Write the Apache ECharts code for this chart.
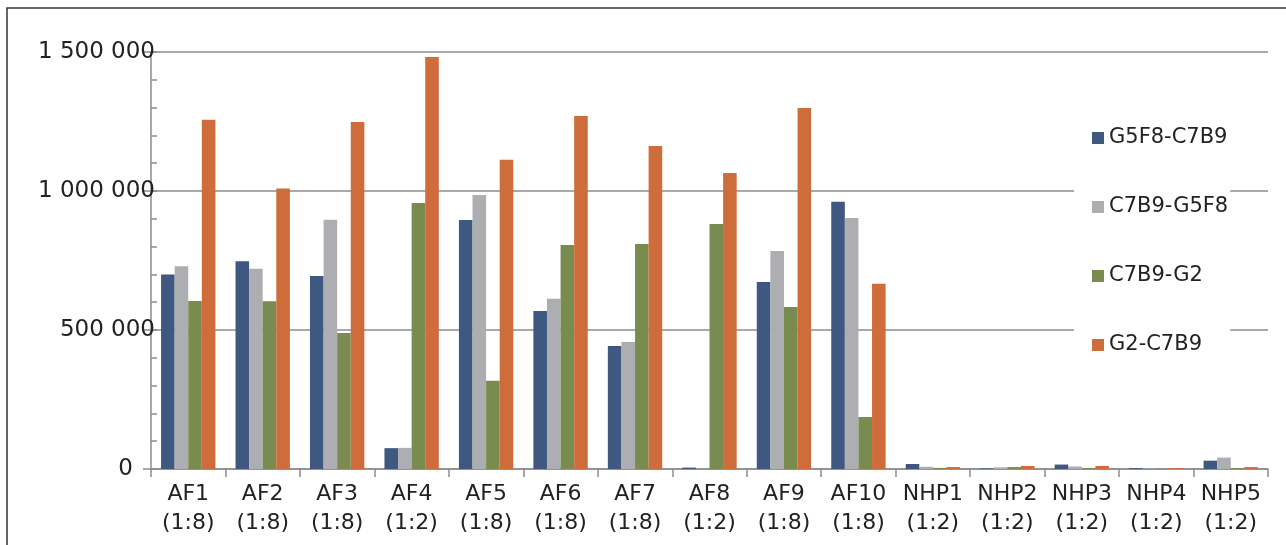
<!DOCTYPE html>
<html>
<head>
<meta charset="utf-8">
<script src="https://cdn.jsdelivr.net/npm/echarts@6/dist/echarts.min.js"></script>
<style>html,body{margin:0;padding:0;background:#fff;}#c{width:1286px;height:545px;}</style>
</head>
<body>
<div id="c"></div>
<script>
var categories = ['AF1\n(1:8)','AF2\n(1:8)','AF3\n(1:8)','AF4\n(1:2)','AF5\n(1:8)','AF6\n(1:8)','AF7\n(1:8)','AF8\n(1:2)','AF9\n(1:8)','AF10\n(1:8)','NHP1\n(1:2)','NHP2\n(1:2)','NHP3\n(1:2)','NHP4\n(1:2)','NHP5\n(1:2)'];
var seriesNames = ['G5F8-C7B9','C7B9-G5F8','C7B9-G2','G2-C7B9'];
var g5f8_c7b9 = [700000, 747000, 694000, 75000, 896000, 568000, 442000, 5000, 673000, 961000, 18000, 2000, 16000, 3000, 30000];
var c7b9_g5f8 = [729000, 720000, 897000, 76000, 986000, 612000, 457000, 0, 784000, 903000, 8000, 6000, 9000, 1000, 41000];
var c7b9_g2   = [604000, 603000, 489000, 957000, 317000, 806000, 809000, 881000, 583000, 187000, 4000, 7000, 3000, 500, 3000];
var g2_c7b9   = [1256000, 1009000, 1248000, 1482000, 1112000, 1270000, 1162000, 1065000, 1299000, 666000, 7000, 11000, 11000, 3000, 7000];
var yTicks = [0, 500000, 1000000, 1500000];
var colors = ['#3E5880', '#ADAEB2', '#7A8B50', '#CF6C3C'];

var FONT = 'DejaVu Sans';
function fmt(v){
  if (v === 0) return '{z|0}';
  return '{n|' + String(v).replace(/\B(?=(\d{3})+(?!\d))/g, ' ') + '}';
}

var chart = echarts.init(document.getElementById('c'));
var values = [g5f8_c7b9, c7b9_g5f8, c7b9_g2, g2_c7b9];
chart.setOption({
  animation: false,
  color: colors,
  grid: {left: 151, right: 18, top: 52, bottom: 76, containLabel: false},
  graphic: [{
    type: 'rect', z: 100, silent: true,
    shape: {x: 7, y: 8, width: 1400, height: 700},
    style: {fill: 'none', stroke: '#333', lineWidth: 1.5}
  }],
  legend: {
    orient: 'vertical', left: 1074, top: 118,
    padding: [8, 2, 8, 18],
    backgroundColor: '#fff',
    itemWidth: 12, itemHeight: 12, itemGap: 45,
    icon: 'rect',
    textStyle: {fontFamily: FONT, fontSize: 21, color: '#222', lineHeight: 24},
    data: seriesNames
  },
  xAxis: {
    type: 'category', data: categories,
    axisLine: {lineStyle: {color: '#8c8c8c', width: 1.5}},
    axisTick: {show: true, alignWithLabel: false, length: 8, lineStyle: {color: '#8c8c8c', width: 1.5}},
    axisLabel: {interval: 0, fontFamily: FONT, fontSize: 22, color: '#222', lineHeight: 29, margin: 11}
  },
  yAxis: [{
    type: 'value', min: 0, max: yTicks[yTicks.length-1], interval: yTicks[1]-yTicks[0],
    axisLine: {show: true, lineStyle: {color: '#8c8c8c', width: 1.5}},
    axisTick: {show: true, length: 8, lineStyle: {color: '#8c8c8c', width: 1.5}},
    splitLine: {show: true, lineStyle: {color: '#8c8c8c', width: 1.5}},
    axisLabel: {
      margin: -4, formatter: fmt,
      rich: {
        n: {fontFamily: FONT, fontSize: 23, color: '#222'},
        z: {fontFamily: FONT, fontSize: 23, color: '#222', padding: [0, 22, 0, 0]}
      }
    }
  }, {
    type: 'value', min: 0, max: yTicks[yTicks.length-1], interval: 100000, position: 'left',
    axisLine: {show: false},
    axisTick: {show: true, inside: true, length: 6, lineStyle: {color: '#8c8c8c', width: 1.5}},
    splitLine: {show: false},
    axisLabel: {show: false}
  }],
  series: seriesNames.map(function(n, i){
    return {name: n, type: 'bar', data: values[i], barGap: '0%', barCategoryGap: '27%', yAxisIndex: 0};
  })
});
</script>
</body>
</html>
